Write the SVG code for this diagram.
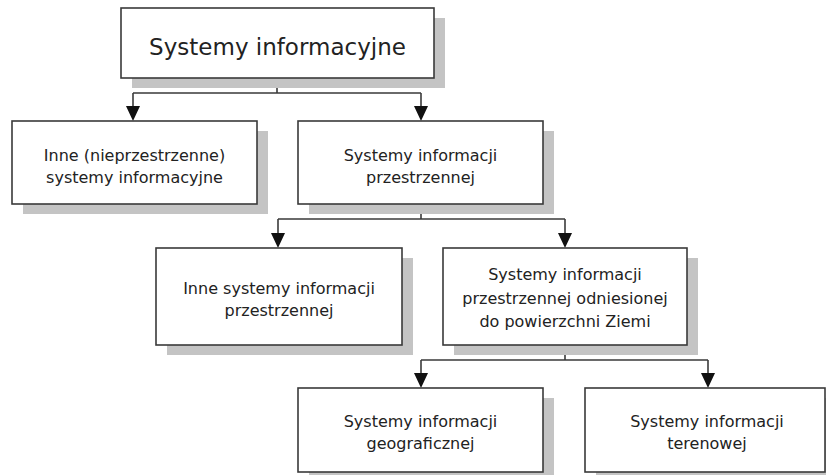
<svg xmlns="http://www.w3.org/2000/svg" width="826" height="475" viewBox="0 0 826 475">
<defs>
<style>
.shadow{fill:#c4c4c4;stroke:none}
.box{fill:#ffffff;stroke:#3a3a3a;stroke-width:1.6}
.t{font-family:"DejaVu Sans",Verdana,sans-serif;font-size:16px;fill:#222;text-anchor:middle}
.title{font-size:23px}
.conn{fill:none;stroke:#3a3a3a;stroke-width:1.6}
.arrow{fill:#111;stroke:none}
</style>
</defs>
<rect width="826" height="475" fill="#ffffff"/>
<g id="connectors">
<path class="conn" d="M277,78 V93 M133,93 H421"/>
<path class="conn" d="M133,93 V110"/>
<path class="conn" d="M421,93 V110"/>
<path class="conn" d="M421,204 V219 M278,219 H565"/>
<path class="conn" d="M278,219 V236"/>
<path class="conn" d="M565,219 V236"/>
<path class="conn" d="M565,345 V360 M421,360 H708"/>
<path class="conn" d="M421,360 V376"/>
<path class="conn" d="M708,360 V376"/>
<path class="arrow" d="M126,106 L140,106 L133,121 Z"/>
<path class="arrow" d="M414,106 L428,106 L421,121 Z"/>
<path class="arrow" d="M271,233 L285,233 L278,248 Z"/>
<path class="arrow" d="M558,233 L572,233 L565,248 Z"/>
<path class="arrow" d="M414,373 L428,373 L421,388 Z"/>
<path class="arrow" d="M701,373 L715,373 L708,388 Z"/>
</g>
<g id="n0">
<rect class="shadow" x="132" y="18" width="313" height="70"/>
<rect class="box" x="121" y="8" width="313" height="70"/>
<text class="t title" x="277.5" y="55">Systemy informacyjne</text>
</g>
<g id="n1">
<rect class="shadow" x="23" y="131" width="245" height="83"/>
<rect class="box" x="12" y="121" width="245" height="83"/>
<text class="t" x="134.5" y="161">Inne (nieprzestrzenne)</text>
<text class="t" x="134.5" y="183">systemy informacyjne</text>
</g>
<g id="n2">
<rect class="shadow" x="309" y="131" width="245" height="83"/>
<rect class="box" x="298" y="121" width="245" height="83"/>
<text class="t" x="420.5" y="161">Systemy informacji</text>
<text class="t" x="420.5" y="183">przestrzennej</text>
</g>
<g id="n3">
<rect class="shadow" x="167" y="258" width="246" height="97"/>
<rect class="box" x="156" y="248" width="246" height="97"/>
<text class="t" x="279" y="294">Inne systemy informacji</text>
<text class="t" x="279" y="316">przestrzennej</text>
</g>
<g id="n4">
<rect class="shadow" x="454" y="258" width="244" height="97"/>
<rect class="box" x="443" y="248" width="244" height="97"/>
<text class="t" x="565" y="280">Systemy informacji</text>
<text class="t" x="565" y="304">przestrzennej odniesionej</text>
<text class="t" x="565" y="327">do powierzchni Ziemi</text>
</g>
<g id="n5">
<rect class="shadow" x="309" y="398" width="245" height="84"/>
<rect class="box" x="298" y="388" width="245" height="84"/>
<text class="t" x="420.5" y="427">Systemy informacji</text>
<text class="t" x="420.5" y="449">geograficznej</text>
</g>
<g id="n6">
<rect class="shadow" x="596" y="398" width="245" height="84"/>
<rect class="box" x="585" y="388" width="240" height="84"/>
<text class="t" x="707" y="427">Systemy informacji</text>
<text class="t" x="707" y="449">terenowej</text>
</g>
</svg>
